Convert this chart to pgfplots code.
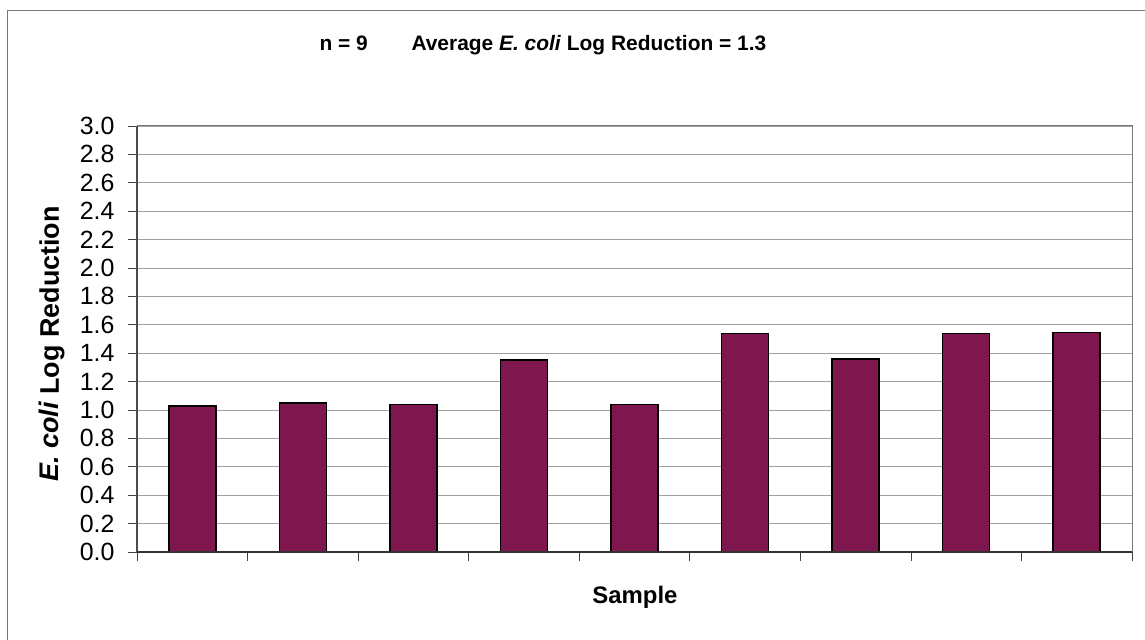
\documentclass[border=0pt]{standalone}
\usepackage{fontspec}
\setmainfont{Liberation Sans}
\usepackage{pgfplots}
\pgfplotsset{compat=1.18}
\definecolor{barplum}{RGB}{128,22,78}
\definecolor{gridgray}{RGB}{160,160,160}
\definecolor{framegray}{RGB}{120,120,120}
\begin{document}
\begin{tikzpicture}[x=1bp,y=1bp]
  % page extent and outer chart frame
  \path[use as bounding box] (0,0) rectangle (1145,640);
  \draw[framegray, line width=1.2bp] (7.5,0) -- (7.5,629.5) -- (1145,629.5);

  \begin{axis}[
    at={(137bp,88bp)}, anchor=south west,
    width=995bp, height=426bp, scale only axis,
    xmin=0.5, xmax=9.5, ymin=0, ymax=3.0,
    xtick={0.5,1.5,...,9.5}, xticklabels={},
    xtick pos=bottom, ytick pos=left,
    ytick={0,0.2,...,3.01},
    /pgf/number format/assume math mode=true,
    tick label style={font=\fontsize{25}{25}\selectfont},
    yticklabel style={xshift=-10bp, /pgf/number format/.cd, fixed, fixed zerofill, precision=1},
    tick align=outside, major tick length=9bp,
    tick style={black!75, line width=0.8bp},
    ymajorgrids, grid style={gridgray, line width=0.8bp},
    axis line style={framegray, line width=1bp},
    clip=false,
  ]
    \addplot[ybar, bar width=47bp, fill=barplum, draw=black, line width=1.6bp]
      coordinates {(1,1.03) (2,1.05) (3,1.04) (4,1.35) (5,1.04) (6,1.54) (7,1.36) (8,1.54) (9,1.545)};
    \draw[black!80, line width=1.2bp] (axis cs:0.5,0) -- (axis cs:9.5,0);
    \draw[black!70, line width=1.2bp] (axis cs:0.5,0) -- (axis cs:0.5,3);
  \end{axis}

  % titles
  \node[font=\bfseries\fontsize{21}{21}\selectfont, anchor=base west] at (316,589) {n = 9};
  \node[font=\bfseries\fontsize{21}{21}\selectfont, anchor=base west] at (408,589) {Average \textit{E. coli} Log Reduction = 1.3};
  \node[font=\bfseries\fontsize{24}{24}\selectfont] at (635,43) {Sample};
  \node[font=\bfseries\fontsize{27}{27}\selectfont, rotate=90] at (52,296) {\textit{E. coli} Log Reduction};
\end{tikzpicture}
\end{document}
